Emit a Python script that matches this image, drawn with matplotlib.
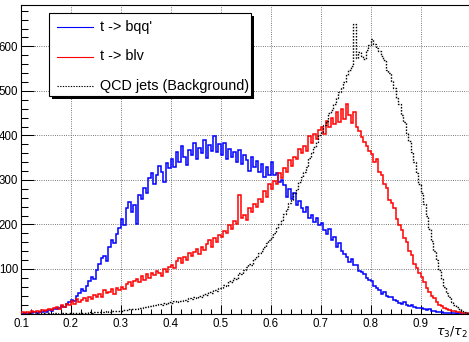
import matplotlib
matplotlib.use("Agg")
import matplotlib.pyplot as plt
import numpy as np
from matplotlib.patches import Rectangle
from matplotlib.lines import Line2D

plt.rcParams['font.family'] = ['Liberation Sans', 'DejaVu Sans']

# ---------------- data ----------------
series_labels = ["t -> bqq'", "t -> blv", "QCD jets (Background)"]
x_tick_values = [0.1, 0.2, 0.3, 0.4, 0.5, 0.6, 0.7, 0.8, 0.9]
x_tick_labels = ["0.1", "0.2", "0.3", "0.4", "0.5", "0.6", "0.7", "0.8", "0.9"]
y_tick_values = [100, 200, 300, 400, 500, 600]
y_tick_labels = ["100", "200", "300", "400", "500", "600"]
x_title = r"$\tau_3/\tau_2$"

hist_low, hist_high, n_bins = 0.1, 1.0, 180

blue_bqq = [
    0, 1, 0, 2, 1, 3, 2, 4, 3, 5, 4, 7, 6, 9, 10, 12, 17, 15, 22, 26,
    31, 28, 40, 45, 54, 50, 62, 74, 82, 77, 98, 112, 124, 130, 118, 150, 166, 158, 178, 192,
    212, 198, 236, 250, 228, 244, 200, 266, 258, 282, 270, 305, 316, 290, 310, 332, 318, 296, 338, 326,
    348, 330, 362, 341, 376, 352, 334, 368, 355, 384, 346, 372, 360, 390, 350, 378, 366, 398, 362, 380,
    356, 382, 348, 370, 352, 362, 340, 368, 336, 356, 344, 320, 352, 330, 342, 318, 336, 306, 328, 312,
    340, 312, 316, 296, 300, 288, 262, 280, 258, 270, 244, 252, 236, 228, 240, 214, 222, 206, 214, 198,
    204, 188, 178, 190, 166, 172, 150, 158, 140, 134, 128, 116, 122, 108, 110, 96, 94, 88, 80, 76,
    72, 62, 58, 52, 44, 48, 40, 36, 38, 30, 28, 24, 22, 26, 18, 16, 19, 14, 13, 12,
    12, 10, 8, 9, 6, 5, 4, 4, 3, 2, 2, 1, 1, 1, 0, 1, 0, 0, 0, 0,
]

red_blv = [
    3, 1, 4, 2, 5, 3, 6, 4, 8, 5, 7, 10, 8, 12, 14, 11, 18, 15, 22, 19,
    28, 22, 32, 26, 30, 35, 28, 38, 33, 42, 36, 44, 38, 52, 46, 48, 56, 44, 58, 52,
    60, 54, 66, 70, 62, 74, 78, 70, 84, 76, 88, 80, 90, 86, 96, 92, 84, 100, 94, 104,
    110, 102, 118, 124, 114, 128, 120, 136, 130, 138, 146, 134, 150, 142, 156, 164, 150, 170, 160, 176,
    172, 186, 180, 198, 190, 208, 200, 266, 214, 222, 210, 236, 228, 246, 240, 258, 250, 276, 262, 290,
    280, 298, 290, 316, 304, 326, 318, 344, 332, 352, 346, 370, 360, 376, 366, 398, 384, 404, 392, 412,
    420, 404, 432, 418, 440, 426, 452, 430, 460, 438, 470, 446, 428, 452, 420, 410, 396, 386, 376, 364,
    358, 340, 346, 318, 312, 290, 282, 256, 248, 236, 212, 198, 188, 170, 160, 140, 132, 112, 102, 90,
    82, 70, 58, 48, 40, 34, 26, 20, 16, 13, 10, 8, 6, 5, 4, 3, 2, 2, 1, 1,
]

black_qcd = [
    0, 0, 0, 1, 0, 0, 1, 0, 0, 1, 0, 1, 0, 1, 1, 0, 1, 1, 0, 1,
    1, 2, 1, 2, 1, 2, 2, 3, 2, 3, 3, 4, 3, 4, 5, 4, 5, 6, 5, 6,
    6, 8, 7, 10, 9, 11, 10, 13, 12, 15, 14, 17, 16, 19, 18, 21, 20, 23, 22, 25,
    24, 27, 25, 29, 27, 31, 29, 34, 32, 37, 35, 40, 38, 44, 42, 48, 46, 53, 50, 57,
    58, 64, 62, 72, 70, 80, 78, 90, 88, 98, 104, 112, 110, 122, 126, 136, 140, 150, 158, 166,
    172, 180, 192, 202, 210, 224, 234, 248, 254, 270, 280, 296, 306, 318, 330, 350, 360, 374, 386, 400,
    408, 424, 432, 450, 458, 470, 484, 498, 506, 520, 536, 546, 556, 650, 574, 588, 578, 572, 592, 604,
    616, 606, 596, 590, 578, 570, 548, 540, 522, 506, 484, 470, 446, 430, 406, 388, 362, 340, 316, 292,
    270, 246, 218, 190, 162, 140, 120, 98, 78, 60, 46, 36, 26, 20, 14, 10, 6, 4, 2, 1,
]

# ---------------- figure ----------------
W, H = 469, 342
fig = plt.figure(figsize=(W / 100, H / 100), dpi=100)

def fx(px):
    return px / W

def fy(py):
    return 1 - py / H

ax_left, ax_right, ax_top, ax_bottom = 21, 471, 5, 313.5
ax = fig.add_axes([fx(ax_left), fy(ax_bottom), (ax_right - ax_left) / W, (ax_bottom - ax_top) / H])

edges = np.linspace(hist_low, hist_high, n_bins + 1)
ax.stairs(blue_bqq, edges, color='#0000ff', lw=1.1, zorder=3)
ax.stairs(red_blv, edges, color='#ff0000', lw=1.1, zorder=3)
ax.stairs(black_qcd, edges, color='black', lw=1.0, linestyle=(0, (1.1, 1.1)), zorder=4)

ax.set_xlim(0.1, 1.0)
ax.set_ylim(0, 693)

ax.set_xticks(x_tick_values + [1.0])
ax.set_xticklabels(x_tick_labels + [""])
ax.set_xticks(np.arange(0.1, 1.0001, 0.02), minor=True)
ax.set_yticks(y_tick_values)
ax.set_yticklabels(y_tick_labels)
ax.set_yticks(np.arange(0, 693, 20), minor=True)

ax.tick_params(axis='x', which='major', direction='in', length=6.6, width=0.75, pad=3, labelsize=8.3)
ax.tick_params(axis='x', which='minor', direction='in', length=3.3, width=0.75)
ax.tick_params(axis='y', which='major', direction='in', length=9.7, width=0.75, pad=2, labelsize=8.3)
ax.tick_params(axis='y', which='minor', direction='in', length=4.9, width=0.75)
ax.tick_params(top=False, right=False, which='both')

ax.grid(True, which='major', color='0.35', lw=0.7, linestyle=(0, (0.8, 1.5)))
ax.set_axisbelow(True)
for s in ax.spines.values():
    s.set_linewidth(0.8)
    s.set_color('black')

fig.text(fx(468), fy(332), x_title, ha='right', va='center', fontsize=9)

# ---------------- legend (ROOT style with shadow) ----------------
lx0, lx1, ly0, ly1 = 49, 251, 13, 96
sh = 2.5
fig.add_artist(Rectangle((fx(lx0 + sh), fy(ly1 + sh)), (lx1 - lx0) / W, (ly1 - ly0) / H,
                         facecolor='black', edgecolor='none', zorder=5))
fig.add_artist(Rectangle((fx(lx0), fy(ly1)), (lx1 - lx0) / W, (ly1 - ly0) / H,
                         facecolor='white', edgecolor='black', lw=0.8, zorder=6))
row_y = [27.3, 56.5, 85.7]
styles = [dict(color='#0000ff', lw=0.8, linestyle='-'),
          dict(color='#ff0000', lw=0.8, linestyle='-'),
          dict(color='black', lw=0.8, linestyle=(0, (1.2, 1.2)))]
for lab, ry, st in zip(series_labels, row_y, styles):
    fig.add_artist(Line2D([fx(57), fx(93)], [fy(ry), fy(ry)], zorder=7, **st))
    fig.text(fx(100), fy(ry), lab, ha='left', va='center', fontsize=10.4, zorder=8)

fig.savefig("out.png", dpi=100)
